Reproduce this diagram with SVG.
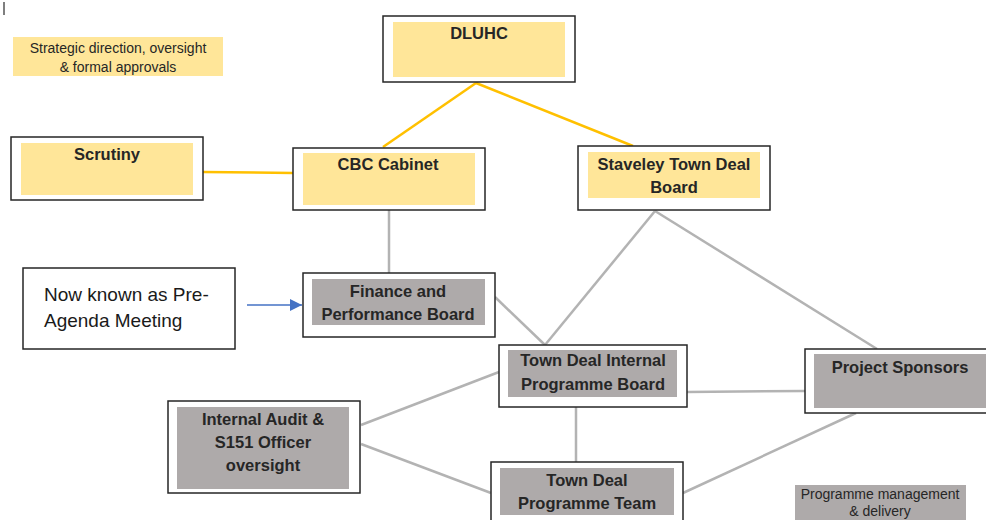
<svg xmlns="http://www.w3.org/2000/svg" width="986" height="520" viewBox="0 0 986 520">
<defs>
<style>
.frame{fill:#fff;stroke:#262626;stroke-width:1.5}
.y{fill:#FFE699}
.g{fill:#AEAAAA}
.t{font-family:"Liberation Sans",Arial,sans-serif;font-weight:bold;font-size:16.5px;fill:#262626;text-anchor:middle}
.s{font-family:"Liberation Sans",Arial,sans-serif;font-size:14px;fill:#262626;text-anchor:middle}
.yl{stroke:#FFC000;stroke-width:2.5;fill:none}
.gl{stroke:#B3B3B3;stroke-width:2.5;fill:none}
</style>
<marker id="arr" viewBox="0 0 10 10" refX="10" refY="5" markerWidth="8" markerHeight="8" orient="auto" markerUnits="strokeWidth">
<path d="M0,0 L10,5 L0,10 z" fill="#4472C4"/>
</marker>
</defs>
<rect width="986" height="520" fill="#fff"/>
<line x1="4" y1="2" x2="4" y2="15" stroke="#555" stroke-width="1.5"/>

<g id="connectors">
<line class="yl" x1="476" y1="83" x2="383" y2="147"/>
<line class="yl" x1="476" y1="83" x2="633" y2="146"/>
<line class="yl" x1="203" y1="172" x2="293" y2="173"/>
<line class="gl" x1="389" y1="210" x2="389" y2="273"/>
<line class="gl" x1="495" y1="297" x2="545" y2="345"/>
<line class="gl" x1="655" y1="211" x2="545" y2="345"/>
<line class="gl" x1="655" y1="211" x2="877" y2="349"/>
<line class="gl" x1="687" y1="392" x2="805" y2="391"/>
<line class="gl" x1="361" y1="425" x2="499" y2="372"/>
<line class="gl" x1="361" y1="444" x2="491" y2="493"/>
<line class="gl" x1="576" y1="407" x2="576" y2="462"/>
<line class="gl" x1="856" y1="413" x2="683" y2="493"/>
<line x1="247" y1="305" x2="302" y2="305" stroke="#4472C4" stroke-width="1.5" marker-end="url(#arr)"/>
</g>

<g id="legend-strategic">
<rect class="y" x="13" y="37" width="210" height="39"/>
<text class="s" x="118" y="53">Strategic direction, oversight</text>
<text class="s" x="118" y="72">&amp; formal approvals</text>
</g>

<g id="dluhc">
<rect class="frame" x="383" y="16" width="192" height="66"/>
<rect class="y" x="393" y="22" width="172" height="55"/>
<text class="t" x="479" y="39">DLUHC</text>
</g>

<g id="scrutiny">
<rect class="frame" x="11" y="137" width="192" height="63"/>
<rect class="y" x="21" y="143" width="172" height="52"/>
<text class="t" x="107" y="160">Scrutiny</text>
</g>

<g id="cbc-cabinet">
<rect class="frame" x="293" y="148" width="192" height="62"/>
<rect class="y" x="303" y="153" width="172" height="52"/>
<text class="t" x="388" y="170">CBC Cabinet</text>
</g>

<g id="staveley">
<rect class="frame" x="578" y="146" width="192" height="64"/>
<rect class="y" x="588" y="152" width="172" height="46"/>
<text class="t" x="674" y="170">Staveley Town Deal</text>
<text class="t" x="674" y="193">Board</text>
</g>

<g id="note">
<rect x="23" y="268" width="212" height="81" fill="#fff" stroke="#262626" stroke-width="1.5"/>
<text x="44" y="301" font-family="Liberation Sans, Arial, sans-serif" font-size="19" fill="#1a1a1a">Now known as Pre-</text>
<text x="44" y="327" font-family="Liberation Sans, Arial, sans-serif" font-size="19" fill="#1a1a1a">Agenda Meeting</text>
</g>

<g id="finance">
<rect class="frame" x="303" y="273" width="192" height="64"/>
<rect class="g" x="312" y="279" width="173" height="46"/>
<text class="t" x="398" y="297">Finance and</text>
<text class="t" x="398" y="320">Performance Board</text>
</g>

<g id="tdi-board">
<rect class="frame" x="499" y="345" width="188" height="62"/>
<rect class="g" x="508" y="350" width="169" height="47"/>
<text class="t" x="593" y="366">Town Deal Internal</text>
<text class="t" x="593" y="390">Programme Board</text>
</g>

<g id="project-sponsors">
<rect class="frame" x="805" y="349" width="190" height="64"/>
<rect class="g" x="814" y="354" width="172" height="54"/>
<text class="t" x="900" y="373">Project Sponsors</text>
</g>

<g id="internal-audit">
<rect class="frame" x="168" y="401" width="192" height="92"/>
<rect class="g" x="177" y="407" width="172" height="82"/>
<text class="t" x="263" y="425">Internal Audit &amp;</text>
<text class="t" x="263" y="448">S151 Officer</text>
<text class="t" x="263" y="471">oversight</text>
</g>

<g id="tdp-team">
<rect class="frame" x="491" y="462" width="192" height="70"/>
<rect class="g" x="500" y="468" width="174" height="47"/>
<text class="t" x="587" y="486">Town Deal</text>
<text class="t" x="587" y="509">Programme Team</text>
</g>

<g id="legend-programme">
<rect class="g" x="795" y="485" width="171" height="35"/>
<text class="s" x="880" y="499">Programme management</text>
<text class="s" x="880" y="516">&amp; delivery</text>
</g>
</svg>
